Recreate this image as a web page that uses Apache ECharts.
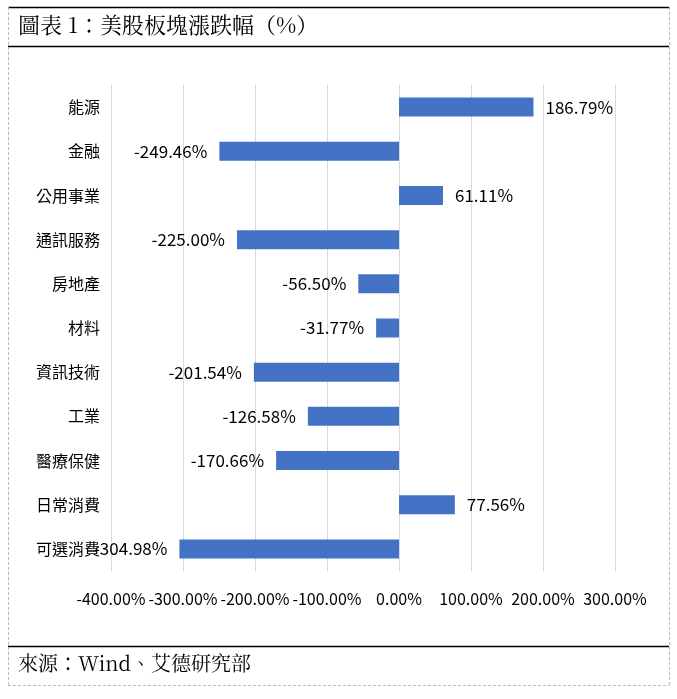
<!DOCTYPE html>
<html>
<head>
<meta charset="utf-8">
<script src="https://cdn.jsdelivr.net/npm/echarts@6/dist/echarts.min.js"></script>
<style>
html,body{margin:0;padding:0;background:#fff;}
#main{width:677px;height:699px;}
</style>
</head>
<body>
<div id="main"></div>
<script>
const categories = ['能源','金融','公用事業','通訊服務','房地產','材料','資訊技術','工業','醫療保健','日常消費','可選消費'];
const values = [186.79, -249.46, 61.11, -225.00, -56.50, -31.77, -201.54, -126.58, -170.66, 77.56, -304.98];
const xTicks = [-400, -300, -200, -100, 0, 100, 200, 300];
const titleText = '圖表 1：美股板塊漲跌幅（%）';
const sourceText = '來源：Wind、艾德研究部';

const narrow = "'Liberation Sans Narrow','Noto Sans CJK TC',sans-serif";
const serif = "'Noto Serif CJK TC','Noto Serif CJK SC','Noto Sans CJK TC',serif";

const chart = echarts.init(document.getElementById('main'), null, {renderer:'canvas'});
chart.setOption({
  animation:false,
  backgroundColor:'#fff',
  grid:{left:111, right:62, top:85, bottom:128, containLabel:false},
  xAxis:{
    type:'value', min:xTicks[0], max:xTicks[xTicks.length-1], interval:100,
    axisLine:{show:false}, axisTick:{show:false},
    splitLine:{show:true, lineStyle:{color:'#d9d9d9', width:1}},
    axisLabel:{color:'#000', fontSize:16, fontFamily:narrow, margin:20,
      formatter:v=>v.toFixed(2)+'%'}
  },
  yAxis:{
    type:'category', data:categories, inverse:true,
    axisLine:{show:false}, axisTick:{show:false},
    axisLabel:{color:'#000', fontSize:16, fontFamily:"'Noto Sans CJK TC',sans-serif", margin:11}
  },
  series:[{
    type:'bar', data:values.map(v=>({value:v, label:{position: v>=0?'right':'left'}})),
    barWidth:19,
    itemStyle:{color:'#4472C4'},
    label:{show:true, color:'#000', fontSize:17, fontFamily:narrow, distance:12,
      formatter:p=>p.value.toFixed(2)+'%'}
  }],
  graphic:[
    {type:'line', shape:{x1:8,y1:7.5,x2:669,y2:7.5}, style:{stroke:'#000', lineWidth:1.5}},
    {type:'line', shape:{x1:8,y1:46.5,x2:669,y2:46.5}, style:{stroke:'#000', lineWidth:1.5}},
    {type:'line', shape:{x1:8,y1:646.5,x2:669,y2:646.5}, style:{stroke:'#000', lineWidth:1.5}},
    {type:'line', shape:{x1:8.5,y1:7,x2:8.5,y2:686}, style:{stroke:'#bbb', lineWidth:1, lineDash:[3,2]}},
    {type:'line', shape:{x1:669.5,y1:7,x2:669.5,y2:686}, style:{stroke:'#bbb', lineWidth:1, lineDash:[3,2]}},
    {type:'line', shape:{x1:8,y1:685.5,x2:669,y2:685.5}, style:{stroke:'#bbb', lineWidth:1, lineDash:[3,2]}},
    {type:'text', left:18, top:14, style:{text:titleText, fill:'#000', font:"22px "+serif}},
    {type:'text', left:18, top:653, style:{text:sourceText, fill:'#000', font:"20px "+serif}}
  ]
});
</script>
</body>
</html>
